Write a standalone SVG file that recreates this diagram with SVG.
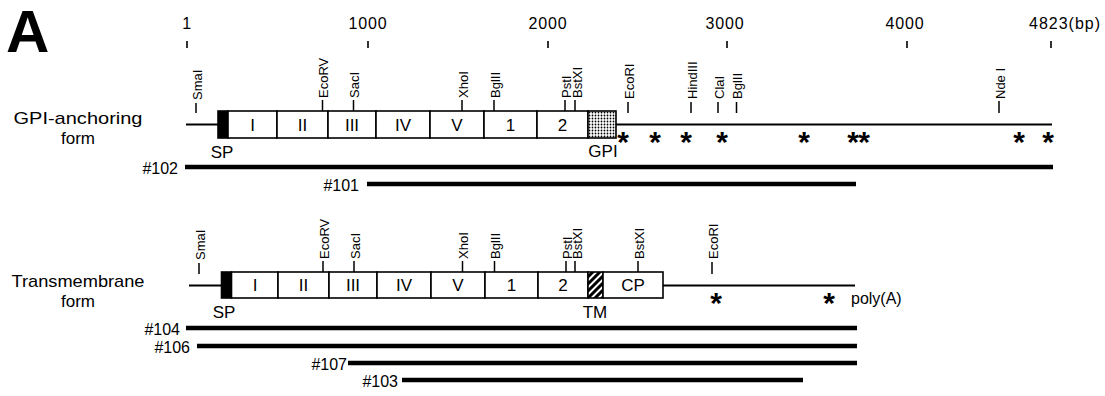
<svg xmlns="http://www.w3.org/2000/svg" width="1105" height="396" viewBox="0 0 1105 396">
<style>
  text{font-family:"Liberation Sans",Arial,sans-serif;fill:#000}
  .big{font-size:60px;font-weight:bold}
  .sc{font-size:16px;letter-spacing:0.8px;text-anchor:middle}
  .tk{stroke:#000;stroke-width:1.6;fill:none}
  .side{font-size:17px;text-anchor:middle}
  .re{font-size:13px;dominant-baseline:central}
  .rt{stroke:#000;stroke-width:1.5}
  .bb{stroke:#000;stroke-width:2;fill:none}
  .box{fill:#fff;stroke:#000;stroke-width:1.6}
  .sp{fill:#000;stroke:#000;stroke-width:1.6}
  .bl{font-size:17px;text-anchor:middle}
  .lab{font-size:17px;text-anchor:middle}
  .ast{font-size:30px;font-weight:bold;text-anchor:middle}
  .cl{stroke:#000;stroke-width:4.5}
  .cn{font-size:16px;text-anchor:end}
</style>
<defs>
  <pattern id="dots" patternUnits="userSpaceOnUse" width="3" height="3">
    <rect width="3" height="3" fill="#fff"/>
    <circle cx="1.5" cy="1.5" r="0.9" fill="#000"/>
  </pattern>
  <pattern id="hatch" patternUnits="userSpaceOnUse" width="5" height="5" patternTransform="rotate(45)">
    <rect width="5" height="5" fill="#fff"/>
    <line x1="1.5" y1="0" x2="1.5" y2="5" stroke="#000" stroke-width="3"/>
  </pattern>
</defs>

<text class="big" x="6" y="52">A</text>

<g id="scale">
  <text class="sc" x="187" y="29">1</text>
  <text class="sc" x="368" y="29">1000</text>
  <text class="sc" x="548" y="29">2000</text>
  <text class="sc" x="725" y="29">3000</text>
  <text class="sc" x="905" y="29">4000</text>
  <text x="1029" y="29" style="font-size:16px;letter-spacing:1px">4823(bp)</text>
  <path class="tk" d="M187 41V48M368 41V48M548 41V48M727 41V48M907 41V48M1051 41V48"/>
</g>

<g id="connectors">
  <path class="bb" d="M186 124.5H218M616 124.5H1052"/>
  <path class="bb" d="M189 285.5H222M663 285.5H855"/>
</g>

<g id="gpi-form">
  <text class="side" x="78" y="124" textLength="129" lengthAdjust="spacingAndGlyphs">GPI-anchoring</text>
  <text class="side" x="78" y="144">form</text>
  <rect class="sp" x="218" y="111" width="10" height="27"/>
  <rect class="box" x="228" y="111" width="49" height="27"/>
  <rect class="box" x="277" y="111" width="51" height="27"/>
  <rect class="box" x="328" y="111" width="48" height="27"/>
  <rect class="box" x="376" y="111" width="54" height="27"/>
  <rect class="box" x="430" y="111" width="54" height="27"/>
  <rect class="box" x="484" y="111" width="53" height="27"/>
  <rect class="box" x="537" y="111" width="51" height="27"/>
  <rect x="588" y="111" width="28" height="27" fill="url(#dots)" stroke="#000" stroke-width="1.6"/>
  <text class="bl" x="252.5" y="130.5">I</text>
  <text class="bl" x="302.5" y="130.5">II</text>
  <text class="bl" x="352" y="130.5">III</text>
  <text class="bl" x="403" y="130.5">IV</text>
  <text class="bl" x="457" y="130.5">V</text>
  <text class="bl" x="510.5" y="130.5">1</text>
  <text class="bl" x="562.5" y="130.5">2</text>
  <text class="lab" x="222" y="158">SP</text>
  <text class="lab" x="603" y="157">GPI</text>
  <path class="rt" d="M196 103V113M322.5 100V111M353.5 100V111M462 100V111M494 100V111M565 100V111M575 100V111M628 102V113M691 102V113M718 102V113M736.5 102V113M999 101V113"/>
  <text class="re" transform="translate(197,100) rotate(-90)">SmaI</text>
  <text class="re" transform="translate(323.5,98) rotate(-90)">EcoRV</text>
  <text class="re" transform="translate(354.5,98) rotate(-90)">SacI</text>
  <text class="re" transform="translate(463,98) rotate(-90)">XhoI</text>
  <text class="re" transform="translate(495,98) rotate(-90)">BglII</text>
  <text class="re" transform="translate(566,98) rotate(-90)">PstI</text>
  <text class="re" transform="translate(577,98) rotate(-90)">BstXI</text>
  <text class="re" transform="translate(629,99) rotate(-90)">EcoRI</text>
  <text class="re" transform="translate(692,99) rotate(-90)">HindIII</text>
  <text class="re" transform="translate(719,99) rotate(-90)">ClaI</text>
  <text class="re" transform="translate(737.5,99) rotate(-90)">BglII</text>
  <text class="re" transform="translate(1000,99) rotate(-90)">Nde I</text>
  <text class="ast" x="623" y="152">*</text>
  <text class="ast" x="655" y="152">*</text>
  <text class="ast" x="686" y="152">*</text>
  <text class="ast" x="722" y="152">*</text>
  <text class="ast" x="804" y="152">*</text>
  <text class="ast" x="853" y="152">*</text>
  <text class="ast" x="864" y="152">*</text>
  <text class="ast" x="1019" y="152">*</text>
  <text class="ast" x="1048" y="152">*</text>
</g>

<g id="gpi-clones">
  <line class="cl" x1="185" y1="167" x2="1053" y2="167"/>
  <text class="cn" x="178" y="174">#102</text>
  <line class="cl" x1="367" y1="184" x2="856" y2="184"/>
  <text class="cn" x="359" y="191">#101</text>
</g>

<g id="tm-form">
  <text class="side" x="78" y="287" textLength="133" lengthAdjust="spacingAndGlyphs">Transmembrane</text>
  <text class="side" x="78" y="307">form</text>
  <rect class="sp" x="221.5" y="272" width="10" height="26"/>
  <rect class="box" x="231.5" y="272" width="46.5" height="26"/>
  <rect class="box" x="278" y="272" width="51" height="26"/>
  <rect class="box" x="329" y="272" width="48" height="26"/>
  <rect class="box" x="377" y="272" width="54" height="26"/>
  <rect class="box" x="431" y="272" width="54" height="26"/>
  <rect class="box" x="485" y="272" width="53" height="26"/>
  <rect class="box" x="538" y="272" width="50" height="26"/>
  <rect x="588" y="272" width="15" height="26" fill="url(#hatch)" stroke="#000" stroke-width="1.6"/>
  <rect class="box" x="603" y="272" width="60" height="26"/>
  <text class="bl" x="255" y="291">I</text>
  <text class="bl" x="303.5" y="291">II</text>
  <text class="bl" x="353" y="291">III</text>
  <text class="bl" x="404" y="291">IV</text>
  <text class="bl" x="458" y="291">V</text>
  <text class="bl" x="511.5" y="291">1</text>
  <text class="bl" x="563" y="291">2</text>
  <text class="bl" x="633" y="291">CP</text>
  <text class="lab" x="224" y="318">SP</text>
  <text class="lab" x="595" y="318">TM</text>
  <text x="851" y="304" style="font-size:16px">poly(A)</text>
  <path class="rt" d="M199 263V274M323 261V272M354 261V272M462.5 261V272M494.5 261V272M566 261V272M575 261V272M638 261V272M712 262V274"/>
  <text class="re" transform="translate(200,260) rotate(-90)">SmaI</text>
  <text class="re" transform="translate(324,259) rotate(-90)">EcoRV</text>
  <text class="re" transform="translate(355,259) rotate(-90)">SacI</text>
  <text class="re" transform="translate(463.5,259) rotate(-90)">XhoI</text>
  <text class="re" transform="translate(495.5,259) rotate(-90)">BglII</text>
  <text class="re" transform="translate(567,259) rotate(-90)">PstI</text>
  <text class="re" transform="translate(577,259) rotate(-90)">BstXI</text>
  <text class="re" transform="translate(639,259) rotate(-90)">BstXI</text>
  <text class="re" transform="translate(713,259) rotate(-90)">EcoRI</text>
  <text class="ast" x="716" y="313">*</text>
  <text class="ast" x="829" y="313">*</text>
</g>

<g id="tm-clones">
  <line class="cl" x1="186" y1="328" x2="857" y2="328"/>
  <text class="cn" x="180" y="335">#104</text>
  <line class="cl" x1="197" y1="346" x2="857" y2="346"/>
  <text class="cn" x="190" y="353">#106</text>
  <line class="cl" x1="348" y1="363" x2="857" y2="363"/>
  <text class="cn" x="347" y="370">#107</text>
  <line class="cl" x1="402" y1="380" x2="803" y2="380"/>
  <text class="cn" x="398" y="387">#103</text>
</g>
</svg>
